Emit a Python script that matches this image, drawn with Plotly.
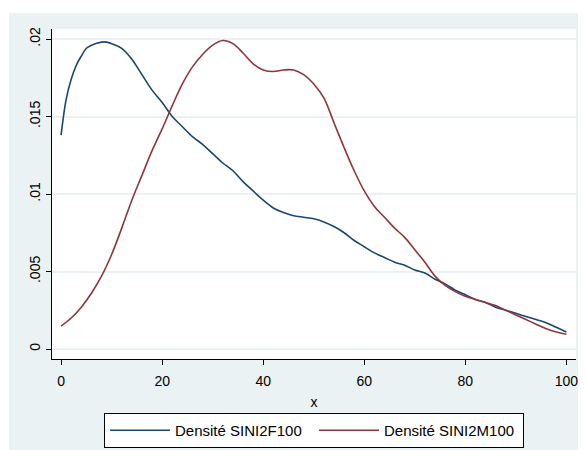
import plotly.graph_objects as go

# Data (kernel density estimates)
x_f = [0, 1, 2, 3, 4, 5, 6, 8, 9, 10, 12, 14, 16, 18, 20, 22, 24, 26, 28, 30,
       32, 34, 36, 38, 40, 42, 44, 46, 48, 50, 52, 54, 56, 58, 60, 62, 64, 66,
       68, 70, 72, 74, 76, 78, 80, 82, 84, 86, 88, 90, 92, 94, 96, 98, 100]
dens_f = [0.0138, 0.0161, 0.0174, 0.0183, 0.0189, 0.0194, 0.0196, 0.0198, 0.0198,
          0.0197, 0.0194, 0.0187, 0.0177, 0.0167, 0.0159, 0.0150, 0.01434, 0.0137,
          0.0132, 0.0126, 0.0120, 0.0115, 0.0108, 0.0102, 0.0096, 0.0091, 0.0088,
          0.0086, 0.0085, 0.0084, 0.0082, 0.0079, 0.0075, 0.0070, 0.0066, 0.0062,
          0.0059, 0.0056, 0.0054, 0.0051, 0.0049, 0.0045, 0.0042, 0.0038, 0.0035,
          0.0032, 0.0030, 0.0027, 0.0025, 0.0023, 0.0021, 0.0019, 0.0017, 0.0014,
          0.0011]

x_m = [0, 2, 4, 6, 8, 10, 12, 14, 16, 18, 20, 22, 24, 26, 28, 30, 32, 34, 36, 38,
       40, 42, 44, 46, 48, 50, 52, 54, 56, 58, 60, 62, 64, 66, 68, 70, 72, 74, 76,
       78, 80, 82, 84, 86, 88, 90, 92, 94, 96, 98, 100]
dens_m = [0.00148, 0.0020, 0.0027, 0.0036, 0.0047, 0.0061, 0.0078, 0.0096, 0.0112,
          0.0128, 0.0142, 0.0157, 0.0171, 0.0182, 0.0190, 0.0196, 0.0199, 0.0197,
          0.0191, 0.0184, 0.0180, 0.0179, 0.0180, 0.0180, 0.0177, 0.0171, 0.0162,
          0.0146, 0.0130, 0.0115, 0.0102, 0.0092, 0.0085, 0.0078, 0.0072, 0.0064,
          0.0056, 0.0047, 0.0041, 0.0037, 0.0034, 0.0032, 0.0030, 0.0028, 0.0025,
          0.0022, 0.0019, 0.0016, 0.0013, 0.0011, 0.00095]

y_tickvals = [0, 0.005, 0.01, 0.015, 0.02]
y_ticktext = ["0", ".005", ".01", ".015", ".02"]
x_tickvals = [0, 20, 40, 60, 80, 100]

FONT = "Arial, Liberation Sans, sans-serif"
NAVY = "#1A476F"
MAROON = "#90353B"
BG = "#EAF2F3"

fig = go.Figure()
fig.add_trace(go.Scatter(x=x_f, y=dens_f, mode="lines", name="Densité SINI2F100",
                         line=dict(color=NAVY, width=1.6, shape="spline", smoothing=1.0)))
fig.add_trace(go.Scatter(x=x_m, y=dens_m, mode="lines", name="Densité SINI2M100",
                         line=dict(color=MAROON, width=1.6, shape="spline", smoothing=1.0)))

# The page body has an 8px margin, so the figure starts at (8, 8) in the window.
W, H = 578, 442
L, R, T, B = 44, 10, 21, 91
pw, ph = W - L - R, H - T - B

fig.update_layout(
    template="none",
    width=W, height=H,
    margin=dict(l=L, r=R, t=T, b=B, pad=0, autoexpand=False),
    paper_bgcolor=BG,
    plot_bgcolor="white",
    font=dict(family=FONT, size=14, color="black"),
    showlegend=True,
    legend=dict(orientation="h", x=0.5, xanchor="center", y=(351 - 405) / ph, yanchor="top",
                bgcolor="white", bordercolor="black", borderwidth=1,
                font=dict(family=FONT, size=15, color="black"),
                itemwidth=60, entrywidth=134, entrywidthmode="pixels", tracegroupgap=0),
    shapes=[
        # white strip across the top of the page (outer graph margin)
        dict(type="rect", xref="paper", yref="paper",
             x0=-L / pw - 0.05, x1=(W - L) / pw + 0.05, y0=(351 - 5) / ph, y1=(351 + 2) / ph + 0.05,
             fillcolor="white", line=dict(width=0), layer="above"),
        dict(type="rect", xref="paper", yref="paper",
             x0=-L / pw - 0.05, x1=(-L + 1) / pw, y0=-B / ph - 0.05, y1=1.2,
             fillcolor="white", line=dict(width=0), layer="above"),
    ],
)

fig.update_xaxes(
    range=[-1.8, 101.9], tickvals=x_tickvals, ticks="outside", ticklen=5,
    tickcolor="black", showline=True, linecolor="black", linewidth=1,
    showgrid=False, zeroline=False, tickfont=dict(size=14), automargin=False,
    ticklabelstandoff=4,
    title=dict(text="x", font=dict(size=14), standoff=9),
)
fig.update_yaxes(
    range=[-0.000645, 0.020645], tickvals=y_tickvals, ticktext=y_ticktext,
    ticks="outside", ticklen=5, tickcolor="black", tickangle=-90,
    showline=True, linecolor="black", linewidth=1,
    showgrid=True, gridcolor=BG, gridwidth=1.5, zeroline=False,
    tickfont=dict(size=14), automargin=False,
)

fig.write_html("out.html")
